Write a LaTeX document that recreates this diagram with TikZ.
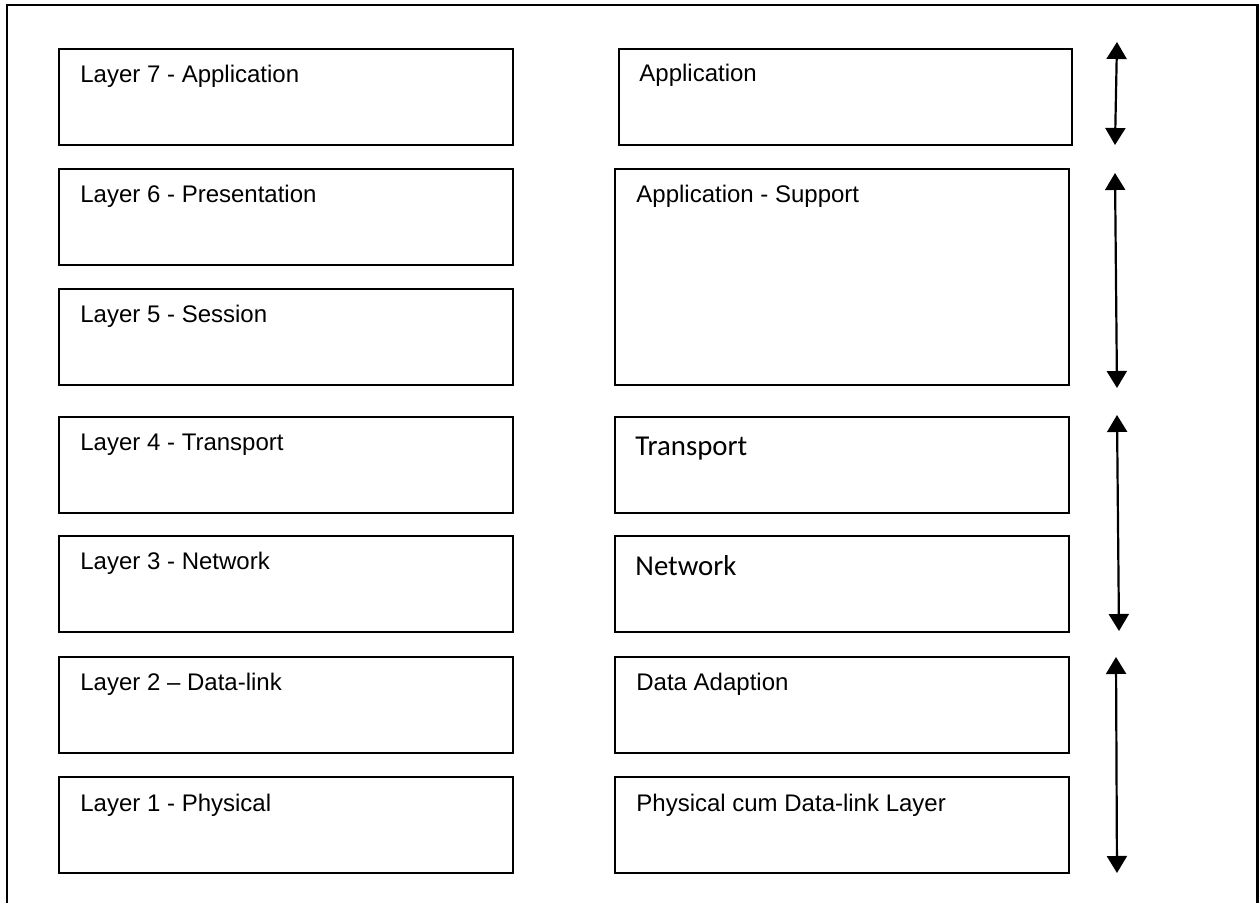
\documentclass[tikz,border=0pt]{standalone}
\usepackage{fontspec}
\setmainfont{Liberation Sans}
\newfontfamily\calib{Carlito}
\usetikzlibrary{arrows.meta}
\begin{document}
\begin{tikzpicture}[x=0.5pt,y=-0.5pt,
  layerbox/.style={draw=black,line width=1pt,rectangle,anchor=north west,outer sep=0pt,inner sep=0pt,minimum width=#1},
  lbl/.style={anchor=base west,inner sep=0pt,font=\fontsize{12pt}{14pt}\selectfont},
  clbl/.style={anchor=base west,inner sep=0pt,font=\calib\fontsize{14.4pt}{16pt}\selectfont},
  dblarrow/.style={line width=1.1pt,{Triangle[width=10pt,length=8.5pt]}-{Triangle[width=10pt,length=8.5pt]}}
]
\useasboundingbox (0,0) rectangle (1260,903);
% outer frame (bottom edge lies below the picture)
\draw[line width=1.2pt] (7,915) -- (7,5) -- (1257.5,5) -- (1257.5,915);
% left column
\node[layerbox=227pt,minimum height=48pt] (l7) at (59,49) {};
\node[layerbox=227pt,minimum height=48pt] (l6) at (59,169) {};
\node[layerbox=227pt,minimum height=48pt] (l5) at (59,289) {};
\node[layerbox=227pt,minimum height=48pt] (l4) at (59,417) {};
\node[layerbox=227pt,minimum height=48pt] (l3) at (59,536) {};
\node[layerbox=227pt,minimum height=48pt] (l2) at (59,657) {};
\node[layerbox=227pt,minimum height=48pt] (l1) at (59,777) {};
\node[lbl] (t7) at (80,83) {Layer 7 - Application};
\node[lbl] (t6) at (80,203) {Layer 6 - Presentation};
\node[lbl] (t5) at (80,323) {Layer 5 - Session};
\node[lbl] (t4) at (80,451) {Layer 4 - Transport};
\node[lbl] (t3) at (80,570) {Layer 3 - Network};
\node[lbl] (t2) at (80,691) {Layer 2 – Data-link};
\node[lbl] (t1) at (80,812) {Layer 1 - Physical};
% right column
\node[layerbox=226.5pt,minimum height=48pt] (r7) at (619,49) {};
\node[layerbox=227pt,minimum height=108pt] (r56) at (615,169) {};
\node[layerbox=227pt,minimum height=48pt] (r4) at (615,417) {};
\node[layerbox=227pt,minimum height=48pt] (r3) at (615,536) {};
\node[layerbox=227pt,minimum height=48pt] (r2) at (615,657) {};
\node[layerbox=227pt,minimum height=48pt] (r1) at (615,777) {};
\node[lbl] (s7) at (639,82) {Application};
\node[lbl] (s56) at (636,203) {Application - Support};
\node[clbl] (s4) at (635,456) {Transport};
\node[clbl] (s3) at (635,576) {Network};
\node[lbl] (s2) at (636,691) {Data Adaption};
\node[lbl] (s1) at (636,812) {Physical cum Data-link Layer};
% arrows
\coordinate (a1t) at (1117,42);
\coordinate (a1b) at (1115,145);
\coordinate (a2t) at (1115,173);
\coordinate (a2b) at (1117,388);
\coordinate (a3t) at (1117,415);
\coordinate (a3b) at (1119,631);
\coordinate (a4t) at (1116,657);
\coordinate (a4b) at (1117,873);
\draw[dblarrow] (a1t) -- (a1b);
\draw[dblarrow] (a2t) -- (a2b);
\draw[dblarrow] (a3t) -- (a3b);
\draw[dblarrow] (a4t) -- (a4b);
\end{tikzpicture}
\end{document}
